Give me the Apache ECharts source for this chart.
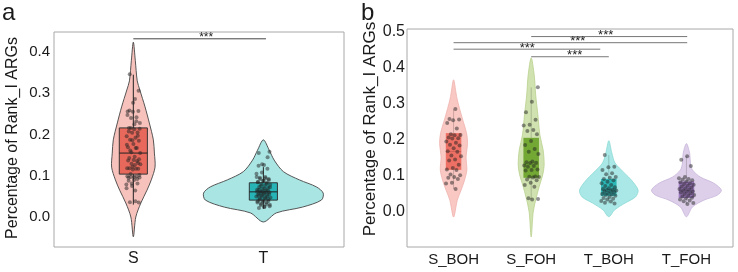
<!DOCTYPE html>
<html><head><meta charset="utf-8">
<script src="https://cdn.jsdelivr.net/npm/echarts@6/dist/echarts.min.js"></script>
<style>html,body{margin:0;padding:0;background:#fff}#c{width:738px;height:272px}</style>
</head><body><div id="c"></div>
<script>
// ---------- data ----------
const catsA = ['S', 'T'];
const catsB = ['S_BOH', 'S_FOH', 'T_BOH', 'T_FOH'];
const yTicksA = [0, 0.1, 0.2, 0.3, 0.4];
const yTicksB = [0, 0.1, 0.2, 0.3, 0.4, 0.5];

const sBoh = [0.286,0.258,0.257,0.255,0.247,0.232,0.216,0.214,0.213,0.207,0.205,0.204,0.196,0.192,0.187,0.185,0.177,0.169,0.167,0.157,0.155,0.146,0.143,0.131,0.122,0.118,0.117,0.104,0.102,0.097,0.095,0.092,0.081,0.079,0.064];
const sFoh = [0.346,0.306,0.277,0.256,0.242,0.240,0.228,0.225,0.216,0.197,0.186,0.175,0.167,0.161,0.140,0.138,0.137,0.136,0.129,0.128,0.126,0.118,0.117,0.115,0.099,0.098,0.097,0.096,0.090,0.088,0.081,0.075,0.070,0.038,0.036,0.035];
const tBoh = [0.158,0.126,0.124,0.117,0.108,0.105,0.097,0.095,0.092,0.088,0.084,0.080,0.075,0.072,0.069,0.066,0.064,0.062,0.061,0.060,0.058,0.056,0.055,0.052,0.050,0.049,0.047,0.045,0.042,0.039,0.037,0.035,0.031,0.029,0.026,0.024];
const tFoh = [0.155,0.145,0.128,0.097,0.094,0.092,0.090,0.088,0.085,0.083,0.080,0.078,0.076,0.073,0.071,0.068,0.066,0.064,0.062,0.060,0.058,0.056,0.054,0.052,0.050,0.047,0.045,0.043,0.040,0.038,0.035,0.032,0.030,0.025,0.022];

// violin outlines: [value, half width in category units]
const violinS = [[0.424,0],[0.38,0.015],[0.33,0.03],[0.308,0.05],[0.267,0.09],[0.228,0.123],[0.187,0.154],[0.155,0.162],[0.121,0.167],[0.09,0.138],[0.065,0.105],[0.034,0.058],[0.0,0.019],[-0.048,0]];
const violinT = [[0.187,0],[0.162,0.045],[0.138,0.083],[0.11,0.154],[0.09,0.277],[0.073,0.408],[0.058,0.46],[0.041,0.446],[0.024,0.30],[0.01,0.10],[-0.012,0]];
const violinSBoh = [[0.367,0],[0.33,0.032],[0.311,0.048],[0.264,0.107],[0.219,0.167],[0.19,0.18],[0.153,0.161],[0.117,0.171],[0.089,0.142],[0.061,0.097],[0.033,0.048],[-0.014,0]];
const violinSFoh = [[0.428,0],[0.38,0.039],[0.325,0.058],[0.27,0.086],[0.214,0.112],[0.172,0.154],[0.13,0.167],[0.103,0.148],[0.075,0.109],[0.039,0.064],[0.0,0.026],[-0.069,0]];
const violinTBoh = [[0.198,0],[0.164,0.039],[0.136,0.081],[0.108,0.203],[0.089,0.29],[0.061,0.377],[0.042,0.344],[0.025,0.21],[0.006,0.075],[-0.013,0]];
const violinTFoh = [[0.19,0],[0.163,0.042],[0.136,0.051],[0.117,0.077],[0.097,0.18],[0.08,0.354],[0.061,0.45],[0.047,0.40],[0.033,0.225],[0.014,0.077],[-0.013,0]];

// box stats: [low whisker, q1, median, q3, high whisker]
const boxA = [[0.030,0.104,0.155,0.216,0.345],[0.020,0.041,0.061,0.083,0.121]];
const boxB = [[0.064,0.117,0.168,0.219,0.286],[0.035,0.095,0.133,0.206,0.346],[0.024,0.045,0.062,0.092,0.158],[0.022,0.039,0.060,0.085,0.155]];

// significance brackets: [from, to, value, star position]
const sigA = [[0, 1.02, 0.432, 0.56]];
const sigB = [[1, 3.01, 0.487, 1.96], [0, 3.01, 0.470, 1.60], [0, 1.89, 0.452, 0.95], [1, 2, 0.431, 1.56]];

// ---------- drawing ----------
const groupsA = [sBoh.concat(sFoh), tBoh.concat(tFoh)];
const groupsB = [sBoh, sFoh, tBoh, tFoh];
const FONT = 'Liberation Sans, Arial, Helvetica, sans-serif';
const TXT = '#1a1a1a';

function jitterPts(groups, width) {
  const out = [];
  groups.forEach((g, ci) => g.forEach((v, k) => {
    const f = ((k + 1) * 0.6180339887 + ci * 0.31) % 1;
    out.push([ci + (f - 0.5) * 2 * width, v]);
  }));
  return out;
}

function violinSeries(xi, profiles, fills, strokes, lw) {
  return {
    type: 'custom', xAxisIndex: xi, yAxisIndex: xi, clip: false, z: 1,
    data: profiles.map((p, i) => [i, 0]), encode: {x: 0, y: 1},
    renderItem(params, api) {
      const i = params.dataIndex, cx = api.value(0), prof = profiles[i];
      const right = prof.map(p => api.coord([cx + p[1], p[0]]));
      const left = prof.slice(1, -1).reverse().map(p => api.coord([cx - p[1], p[0]]));
      return {type: 'polygon', shape: {points: right.concat(left), smooth: 0.3},
        style: {fill: fills[i], stroke: strokes[i], lineWidth: lw}};
    }
  };
}

function boxSeries(xi, stats, fills, stroke, lineColor, medColor, half) {
  return {
    type: 'custom', xAxisIndex: xi, yAxisIndex: xi, clip: false, z: 2,
    data: stats.map((s, i) => [i, s[2]]), encode: {x: 0, y: 1},
    renderItem(params, api) {
      const i = params.dataIndex, s = stats[i], cx = api.value(0);
      const tl = api.coord([cx - half, s[3]]), br = api.coord([cx + half, s[1]]);
      const lo = api.coord([cx, s[0]]), hi = api.coord([cx, s[4]]);
      const ml = api.coord([cx - half, s[2]]), mr = api.coord([cx + half, s[2]]);
      return {type: 'group', children: [
        {type: 'line', shape: {x1: hi[0], y1: hi[1], x2: lo[0], y2: lo[1]}, style: {stroke: lineColor, lineWidth: 1}},
        {type: 'rect', shape: {x: tl[0], y: tl[1], width: br[0] - tl[0], height: br[1] - tl[1]},
          style: {fill: fills[i], stroke: stroke, lineWidth: stroke ? 1 : 0}},
        {type: 'line', shape: {x1: ml[0], y1: ml[1], x2: mr[0], y2: mr[1]}, style: {stroke: medColor, lineWidth: 1}}
      ]};
    }
  };
}

function sigSeries(xi, sigs, lineColor, fs) {
  return {
    type: 'custom', xAxisIndex: xi, yAxisIndex: xi, clip: false, z: 5,
    data: sigs.map(s => [s[0], s[2]]), encode: {x: 0, y: 1},
    renderItem(params, api) {
      const s = sigs[params.dataIndex];
      const a = api.coord([s[0], s[2]]), b = api.coord([s[1], s[2]]), st = api.coord([s[3], s[2]]);
      return {type: 'group', children: [
        {type: 'line', shape: {x1: a[0], y1: a[1], x2: b[0], y2: b[1]}, style: {stroke: lineColor, lineWidth: 1}},
        {type: 'text', x: st[0], y: a[1] - 1, style: {text: '***', fill: '#222', font: fs + 'px ' + FONT, align: 'center', verticalAlign: 'middle'}}
      ]};
    }
  };
}

const axisCommon = {axisLine: {show: false}, axisTick: {show: false}, splitLine: {show: false}};

const option = {
  animation: false,
  backgroundColor: '#fff',
  grid: [
    {left: 54, top: 32, width: 290, height: 215, show: true, borderColor: '#a8a8a8', borderWidth: 1, backgroundColor: 'transparent'},
    {left: 407, top: 29, width: 326, height: 218, show: true, borderColor: '#a8a8a8', borderWidth: 1, backgroundColor: 'transparent'}
  ],
  xAxis: [
    Object.assign({gridIndex: 0, type: 'value', min: -0.61, max: 1.62,
      axisLabel: {customValues: [0, 1], formatter: v => catsA[Math.round(v)], fontSize: 16, color: TXT, fontFamily: FONT, margin: 4}}, axisCommon),
    Object.assign({gridIndex: 1, type: 'value', min: -0.6, max: 3.6,
      axisLabel: {customValues: [0, 1, 2, 3], formatter: v => catsB[Math.round(v)], fontSize: 15, color: TXT, fontFamily: FONT, margin: 5}}, axisCommon)
  ],
  yAxis: [
    Object.assign({gridIndex: 0, type: 'value', min: -0.0727, max: 0.4485,
      axisLabel: {customValues: yTicksA, formatter: v => v.toFixed(1), fontSize: 15, color: TXT, fontFamily: FONT, margin: 4}}, axisCommon),
    Object.assign({gridIndex: 1, type: 'value', min: -0.097, max: 0.508,
      axisLabel: {customValues: yTicksB, formatter: v => v.toFixed(1), fontSize: 16, color: TXT, fontFamily: FONT, margin: 2}}, axisCommon)
  ],
  graphic: [
    {type: 'text', left: 2, top: 1, style: {text: 'a', font: '24px ' + FONT, fill: TXT}},
    {type: 'text', left: 361, top: 1, style: {text: 'b', font: '24px ' + FONT, fill: TXT}},
    {type: 'text', x: 13, y: 138, rotation: Math.PI / 2, style: {text: 'Percentage of Rank_I ARGs', font: '16px ' + FONT, fill: TXT, align: 'center', verticalAlign: 'middle'}},
    {type: 'text', x: 370, y: 129, rotation: Math.PI / 2, style: {text: 'Percentage of Rank_I ARGs', font: '17px ' + FONT, fill: TXT, align: 'center', verticalAlign: 'middle'}}
  ],
  series: [
    violinSeries(0, [violinS, violinT], ['#F8C2BC', '#A8E5E3'], ['#444', '#444'], 0.9),
    boxSeries(0, boxA, ['#E8695C', '#27B4B6'], '#333', '#222', '#222', 0.108),
    {type: 'scatter', xAxisIndex: 0, yAxisIndex: 0, z: 3, symbolSize: 4, data: jitterPts(groupsA, 0.055),
      itemStyle: {color: 'rgba(35,35,35,0.62)'}},
    sigSeries(0, sigA, '#444', 12),
    violinSeries(1, [violinSBoh, violinSFoh, violinTBoh, violinTFoh], ['#F9C8C3', '#D0E2B0', '#A9E8E6', '#DDCFE9'], ['#EFB3AD', '#B9D08E', '#8CD9D6', '#C8B5DA'], 0.8),
    boxSeries(1, boxB, ['#EE7064', '#72A833', '#2CB7B7', '#9C78BE'], null, 'rgba(0,0,0,0.18)', 'rgba(0,0,0,0.12)', 0.1),
    {type: 'scatter', xAxisIndex: 1, yAxisIndex: 1, z: 3, symbolSize: 4, data: jitterPts(groupsB, 0.1),
      itemStyle: {color: 'rgba(35,35,35,0.62)'}},
    sigSeries(1, sigB, '#777', 13)
  ]
};
const chart = echarts.init(document.getElementById('c'), null, {renderer: 'canvas'});
chart.setOption(option);
</script></body></html>
